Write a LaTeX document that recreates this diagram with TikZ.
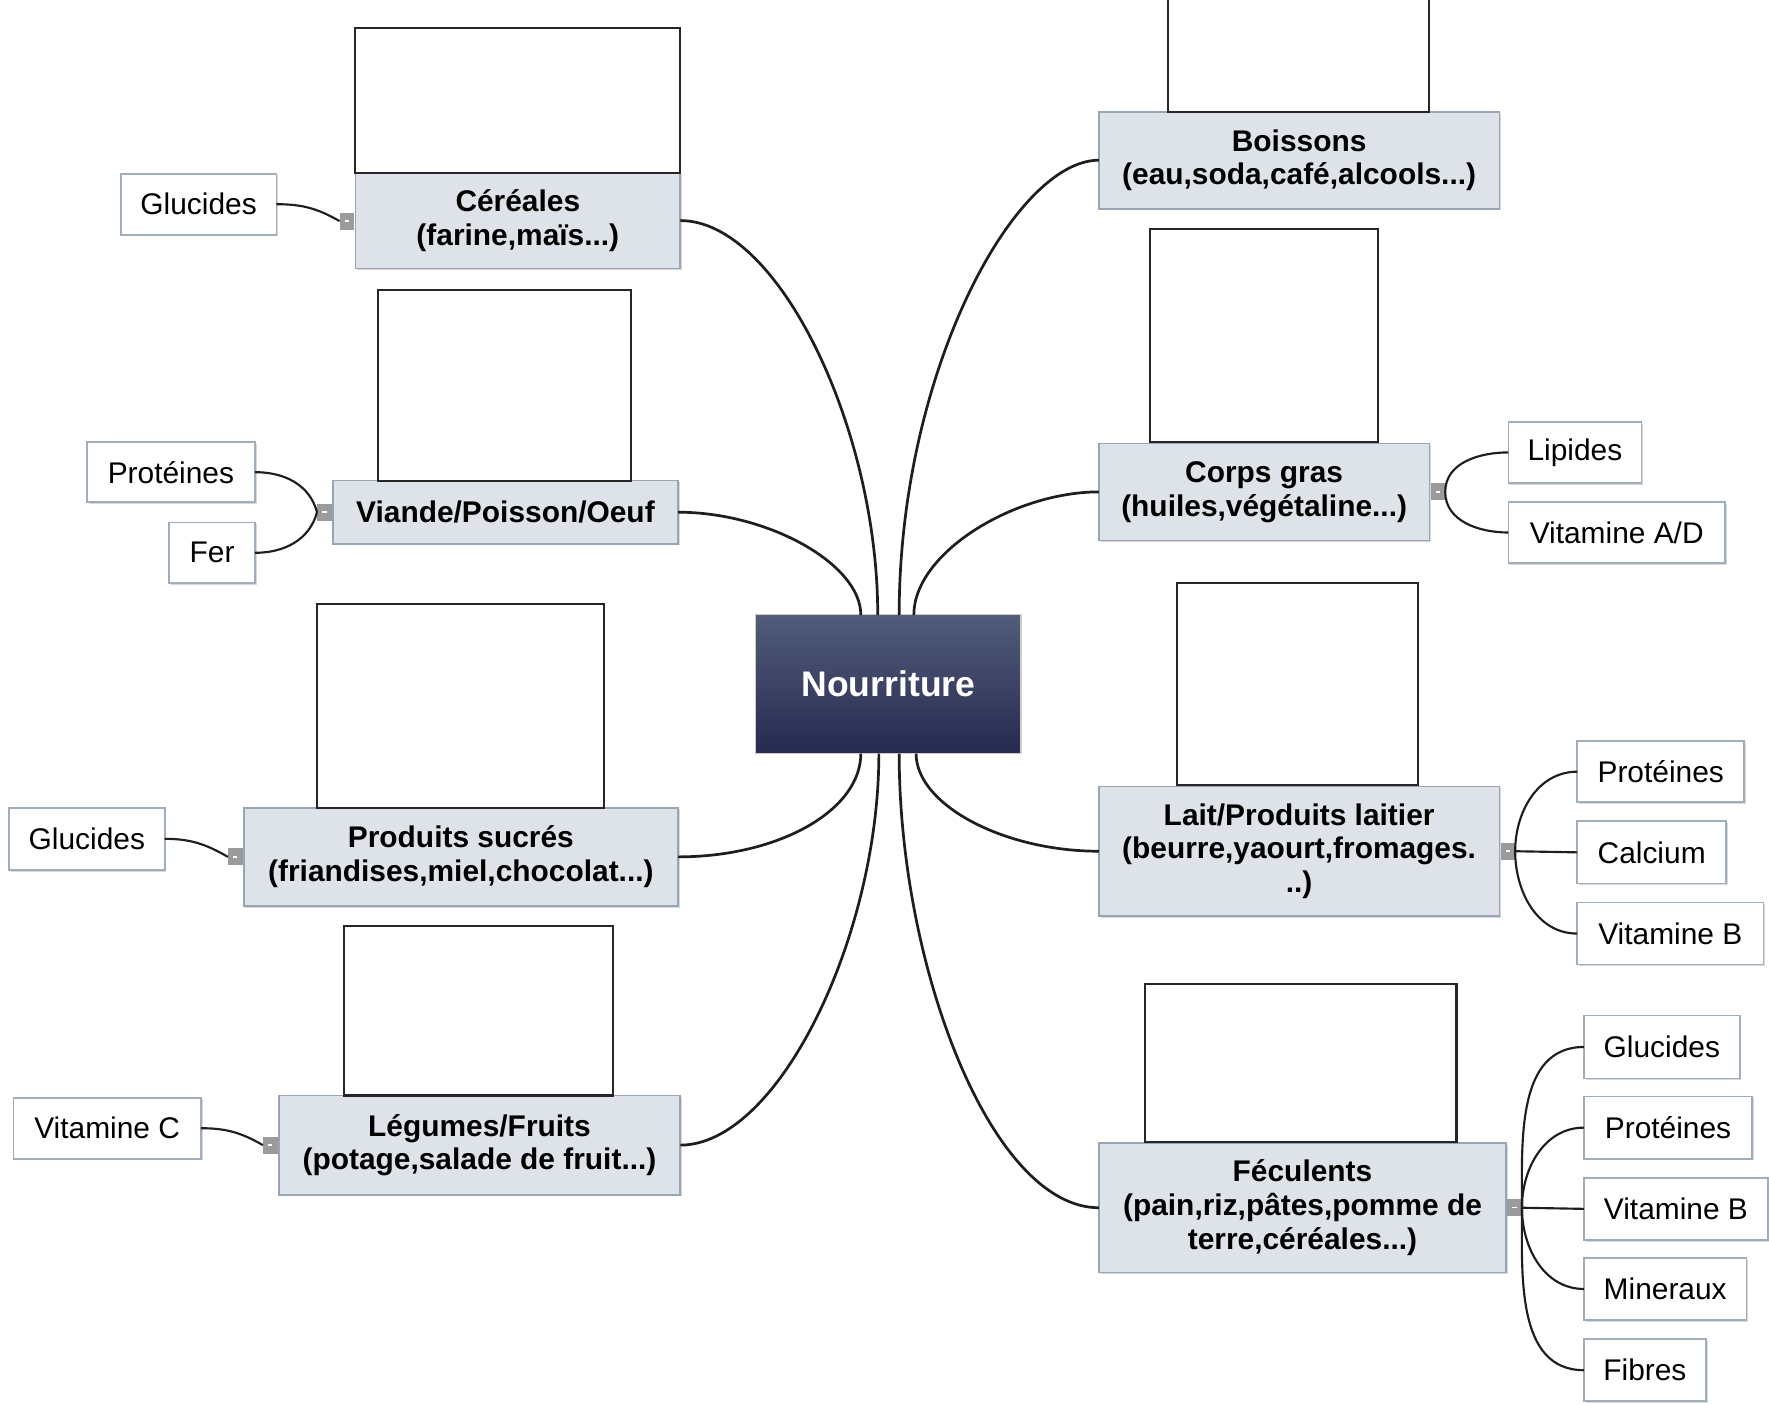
\documentclass[tikz,border=0pt]{standalone}
\usepackage{fontspec}
\setmainfont{Liberation Sans}
\usetikzlibrary{shadows}

\definecolor{topicfill}{HTML}{DDE3E8}
\definecolor{topicline}{HTML}{98A5B4}
\definecolor{leafline}{HTML}{A0ADBA}
\definecolor{centtop}{HTML}{535C7A}
\definecolor{centbot}{HTML}{252A4F}
\definecolor{knob}{HTML}{9B9B9B}
\definecolor{wire}{HTML}{1E1E1E}

\tikzset{
  base/.style={rectangle, inner sep=0pt, outer sep=0pt, align=center},
  softshadow/.style={drop shadow={shadow xshift=1.5pt, shadow yshift=-1.5pt, fill=black!30, opacity=0.5}},
  picbox/.style={base, draw=black!85, line width=1.8pt, fill=white},
  topic/.style={base, softshadow, draw=topicline, line width=1.5pt, fill=topicfill,
    font=\fontsize{26.5}{30}\selectfont\bfseries},
  leaf/.style={base, softshadow, draw=leafline, line width=1.5pt, fill=white,
    font=\fontsize{26.5}{30}\selectfont},
  knobstyle/.style={base, fill=knob, minimum width=13pt, minimum height=15pt},
  mainwire/.style={draw=wire, line width=2.4pt},
  subwire/.style={draw=wire, line width=1.9pt},
}

% box given by its corners: style, name, x1, y1, x2, y2, text
\newcommand\boxat[7]{%
  \node[#1, minimum width={(#5)-(#3)}, minimum height={(#6)-(#4)}]
    (#2) at ({((#3)+(#5))/2},{((#4)+(#6))/2}) {#7};}
\newcommand\knobat[3]{%
  \node[knobstyle] (#1) at (#2,#3) {\textcolor{white}{\rule{4pt}{1.3pt}}};}

\begin{document}
\begin{tikzpicture}[x=1pt, y=-1pt]
\fill[white] (0,0) rectangle (1568,1245);
\useasboundingbox (0,0) rectangle (1568,1245);

% central topic
\node[base, minimum width=235pt, minimum height=123pt, top color=centtop,
  bottom color=centbot, draw=black!20, line width=1pt, text=white,
  font=\fontsize{31.5}{36}\selectfont\bfseries] (nour) at (787.5,606.5) {Nourriture};

% ---------- left side ----------
\boxat{topic}{cer}{315}{153}{603}{238}{Céréales\\(farine,maïs...)}
\boxat{picbox}{imgcer}{315}{25}{603}{153}{}
\boxat{leaf}{glu1}{107}{154}{245}{208}{Glucides}
\knobat{hcer}{307.5}{196}

\boxat{topic}{via}{295}{426}{601}{482}{Viande/Poisson/Oeuf}
\boxat{picbox}{imgvia}{335}{257}{559}{426}{}
\boxat{leaf}{prot1}{77}{392}{226}{445}{Protéines}
\boxat{leaf}{fer}{150}{463}{226}{517}{Fer}
\knobat{hvia}{287.5}{454}

\boxat{topic}{suc}{216}{716}{601}{803}{Produits sucrés\\(friandises,miel,chocolat...)}
\boxat{picbox}{imgsuc}{281}{535}{535}{716}{}
\boxat{leaf}{glu2}{8}{716}{146}{771}{Glucides}
\knobat{hsuc}{208.5}{759.5}

\boxat{topic}{leg}{247}{971}{603}{1059}{Légumes/Fruits\\(potage,salade de fruit...)}
\boxat{picbox}{imgleg}{305}{821}{543}{971}{}
\boxat{leaf}{vitc}{12}{973}{178}{1027}{Vitamine C}
\knobat{hleg}{239.5}{1015}

% ---------- right side ----------
\boxat{topic}{boi}{974}{99}{1329}{185}{Boissons\\(eau,soda,café,alcools...)}
\boxat{picbox}{imgboi}{1035}{-5}{1267}{99}{}

\boxat{topic}{cor}{974}{393}{1267}{479}{Corps gras\\(huiles,végétaline...)}
\boxat{picbox}{imgcor}{1019}{203}{1221}{392}{}
\boxat{leaf}{lip}{1337}{374}{1455}{428}{Lipides}
\boxat{leaf}{vitad}{1337}{445}{1529}{499}{Vitamine A/D}
\knobat{hcor}{1274.5}{436}

\boxat{topic}{lai}{974}{697}{1329}{812}{Lait/Produits laitier\\(beurre,yaourt,fromages.\\..)}
\boxat{picbox}{imglai}{1043}{517}{1257}{696}{}
\boxat{leaf}{prot2}{1398}{657}{1546}{711}{Protéines}
\boxat{leaf}{calc}{1398}{728}{1530}{783}{Calcium}
\boxat{leaf}{vitb1}{1398}{800}{1563}{855}{Vitamine B}
\knobat{hlai}{1336.5}{754.5}

\boxat{topic}{fec}{974}{1013}{1335}{1128}{Féculents\\(pain,riz,pâtes,pomme de\\terre,céréales...)}
\boxat{picbox}{imgfec}{1015}{872}{1291}{1012}{}
\boxat{leaf}{glu3}{1404}{900}{1542}{956}{Glucides}
\boxat{leaf}{prot3}{1404}{972}{1553}{1027}{Protéines}
\boxat{leaf}{vitb2}{1404}{1044}{1567}{1099}{Vitamine B}
\boxat{leaf}{mine}{1404}{1115}{1548}{1170}{Mineraux}
\boxat{leaf}{fib}{1404}{1187}{1512}{1242}{Fibres}
\knobat{hfec}{1342.5}{1070.5}

% ---------- branches from the central topic ----------
\draw[mainwire] (cer.east) .. controls +(87,0) and +(0,-165) .. ([xshift=-9.5pt]nour.north);
\draw[mainwire] (via.east) .. controls +(80,0) and +(0,-45) .. ([xshift=-24.5pt]nour.north);
\draw[mainwire] (boi.west) .. controls +(-75,0) and +(0,-215) .. ([xshift=9.5pt]nour.north);
\draw[mainwire] (cor.west) .. controls +(-75,0) and +(0,-55) .. ([xshift=22.5pt]nour.north);
\draw[mainwire] (suc.east) .. controls +(90,0) and +(0,50) .. ([xshift=-24.5pt]nour.south);
\draw[mainwire] (leg.east) .. controls +(87,0) and +(0,162) .. ([xshift=-8.5pt]nour.south);
\draw[mainwire] (lai.west) .. controls +(-85,0) and +(0,45) .. ([xshift=24.5pt]nour.south);
\draw[mainwire] (fec.west) .. controls +(-95,0) and +(0,190) .. ([xshift=9.5pt]nour.south);

% ---------- sub-branches ----------
\draw[subwire] (hcer.west) to[out=150, in=0] (glu1.east);
\draw[subwire] (hvia.west) to[out=105, in=0] (prot1.east);
\draw[subwire] (hvia.west) to[out=-105, in=0] (fer.east);
\draw[subwire] (hsuc.west) to[out=150, in=0] (glu2.east);
\draw[subwire] (hleg.west) to[out=150, in=0] (vitc.east);

\draw[subwire] (hcor.east) to[out=90, in=180] (lip.west);
\draw[subwire] (hcor.east) to[out=-90, in=180] (vitad.west);

\draw[subwire] (hlai.east) to[out=90, in=180] (prot2.west);
\draw[subwire] (hlai.east) -- (calc.west);
\draw[subwire] (hlai.east) to[out=-90, in=180] (vitb1.west);

\draw[subwire] (hfec.east) to[out=90, in=180] (glu3.west);
\draw[subwire] (hfec.east) to[out=90, in=180] (prot3.west);
\draw[subwire] (hfec.east) -- (vitb2.west);
\draw[subwire] (hfec.east) to[out=-90, in=180] (mine.west);
\draw[subwire] (hfec.east) to[out=-90, in=180] (fib.west);
\end{tikzpicture}
\end{document}
